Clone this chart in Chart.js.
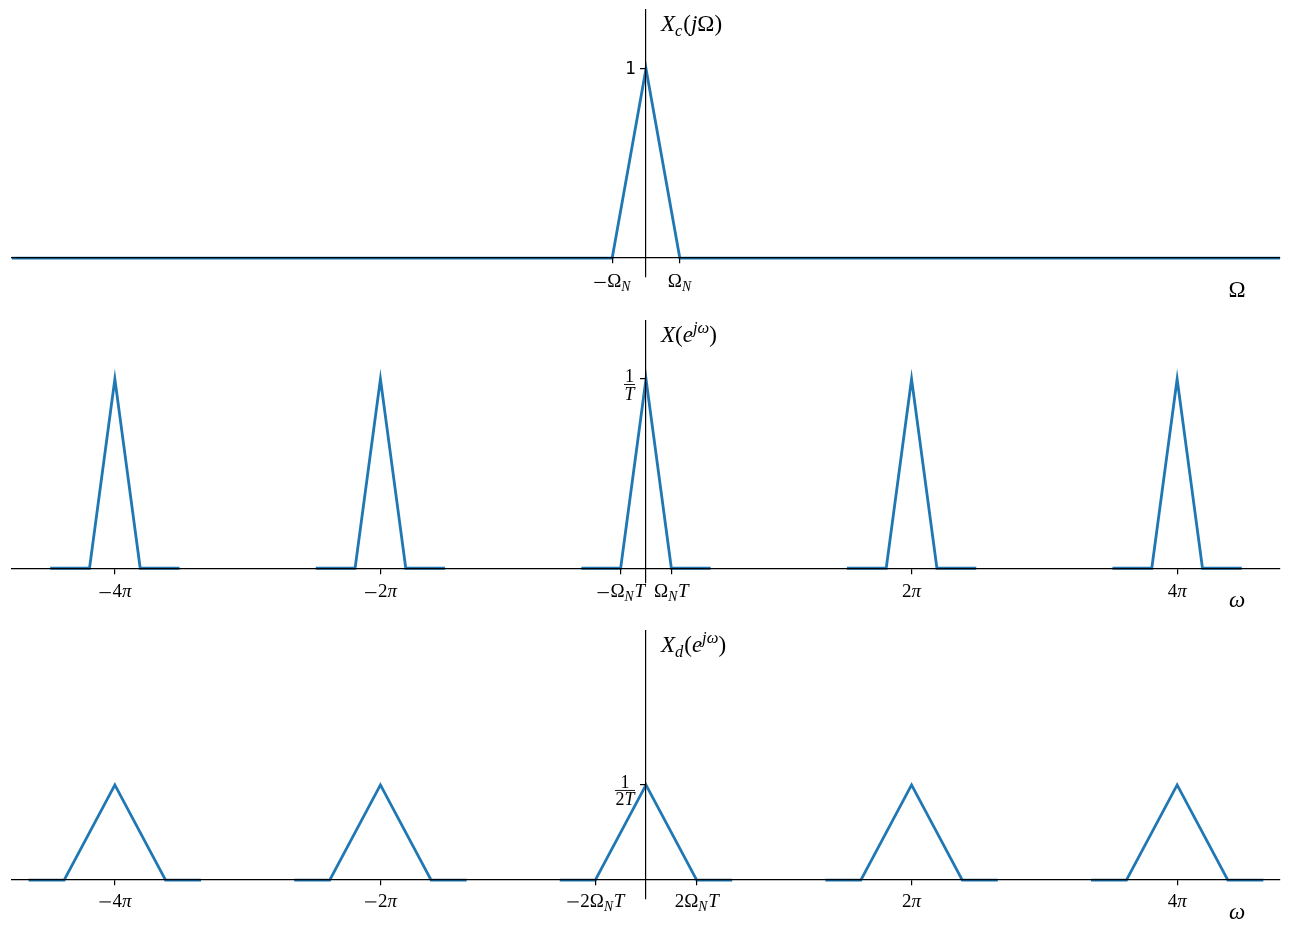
<!DOCTYPE html>
<html>
<head>
<meta charset="utf-8">
<script src="https://cdn.jsdelivr.net/npm/chart.js@4.4.1/dist/chart.umd.min.js"></script>
<style>
  html, body { margin: 0; padding: 0; background: #fff; width: 1291px; height: 935px; overflow: hidden; }
  canvas { position: absolute; left: 0; }
</style>
</head>
<body>
<canvas id="panel1" width="1291" height="310" style="top:0px"></canvas>
<canvas id="panel2" width="1291" height="312" style="top:310px"></canvas>
<canvas id="panel3" width="1291" height="313" style="top:622px"></canvas>
<script>
const PI = Math.PI;

// X_c(jΩ): continuous-time spectrum
const contOmega = [-15, -0.8, 0, 0.8, 15];
const contValue = [0, 0, 1, 0, 0];

// spectra repeat around every multiple of 2π
const replicaCenters = [-4 * PI, -2 * PI, 0, 2 * PI, 4 * PI];

// X(e^{jω}): one period, offsets from its centre
const sampledOffsets = [-1.53, -0.6, 0, 0.6, 1.53];
const sampledValue = [0, 0, 1.333, 0, 0];

// X_d(e^{jω}): one period, offsets from its centre
const decimOffsets = [-2.04, -1.2, 0, 1.2, 2.04];
const decimValue = [0, 0, 0.667, 0, 0];

// ticks
const xTicks1 = [-0.8, 0.8];
const xTickLabels1 = ['−Ω_N', 'Ω_N'];
const yTicks1 = [1];
const yTickLabels1 = ['1'];

const xTicks2 = [-4 * PI, -2 * PI, -0.6, 0.6, 2 * PI, 4 * PI];
const xTickLabels2 = ['−4π', '−2π', '−Ω_NT', 'Ω_NT', '2π', '4π'];
const yTicks2 = [1.333];
const yTickLabels2 = ['1/T'];

const xTicks3 = [-4 * PI, -2 * PI, -1.2, 1.2, 2 * PI, 4 * PI];
const xTickLabels3 = ['−4π', '−2π', '−2Ω_NT', '2Ω_NT', '2π', '4π'];
const yTicks3 = [0.667];
const yTickLabels3 = ['1/2T'];

const BLUE = '#1f77b4';
const SERIF = '"Liberation Serif", "DejaVu Serif", serif';
const TICK_SIZE = 19;
const FRAC_SIZE = 18;
const LABEL_SIZE = 23;

// tiny tex-ish text: _x / _{..} subscript, ^x / ^{..} superscript, letters italic
function texParts(src) {
  const parts = [];
  let i = 0;
  while (i < src.length) {
    const c = src[i];
    if (c === '_' || c === '^') {
      const script = c === '_' ? 'sub' : 'sup';
      i++;
      let body;
      if (src[i] === '{') {
        const j = src.indexOf('}', i);
        body = src.slice(i + 1, j);
        i = j + 1;
      } else {
        body = src[i];
        i++;
      }
      for (const ch of body) parts.push({ t: ch, it: /[A-Za-zα-ω]/.test(ch), script });
    } else {
      parts.push({ t: c, it: /[A-Za-zα-ω]/.test(c), script: null });
      i++;
    }
  }
  return parts;
}

function layoutTex(ctx, src, size) {
  let w = 0;
  const items = texParts(src).map(p => {
    const s = p.script ? size * 0.72 : size;
    const font = (p.it ? 'italic ' : '') + s + 'px ' + SERIF;
    ctx.font = font;
    let adv;
    if (p.t === '−') {
      // computer-modern style wide minus, drawn as a bar
      adv = size * 0.74;
    } else {
      adv = ctx.measureText(p.t).width;
    }
    if (p.script === 'sub') adv += size * 0.04;
    const dy = p.script === 'sub' ? size * 0.22 : p.script === 'sup' ? -size * 0.4 : 0;
    const item = { t: p.t, font, x: w, dy, size: s };
    w += adv;
    return item;
  });
  return { items, w };
}

function drawTex(ctx, src, x, y, size, align) {
  const { items, w } = layoutTex(ctx, src, size);
  const left = align === 'center' ? x - w / 2 : align === 'right' ? x - w : x;
  ctx.textAlign = 'left';
  ctx.textBaseline = 'alphabetic';
  items.forEach(it => {
    if (it.t === '−') {
      ctx.fillRect(left + it.x + it.size * 0.06, y + it.dy - it.size * 0.27, it.size * 0.6, Math.max(1, it.size * 0.055));
      return;
    }
    ctx.font = it.font;
    ctx.fillText(it.t, left + it.x, y + it.dy);
  });
}

function drawFrac(ctx, src, right, yTick, size) {
  const [num, den] = src.split('/');
  const w = Math.max(layoutTex(ctx, num, size).w, layoutTex(ctx, den, size).w) + 1;
  const cx = right - w / 2;
  drawTex(ctx, num, cx, yTick + 3.2, size, 'center');
  ctx.fillRect(cx - w / 2, yTick + 5, w, 0.9);
  drawTex(ctx, den, cx, yTick + 20.5, size, 'center');
}

function labelPlugin(cfg) {
  return {
    id: 'mathLabels',
    afterDraw(chart) {
      const ctx = chart.ctx;
      const xs = chart.scales.x;
      const ys = chart.scales.y;
      const x0 = xs.getPixelForValue(0);
      const y0 = ys.getPixelForValue(0);
      ctx.save();
      ctx.fillStyle = '#000';
      cfg.xTicks.forEach((v, i) => {
        drawTex(ctx, cfg.xTickLabels[i], xs.getPixelForValue(v), y0 + cfg.tickDrop, TICK_SIZE, 'center');
      });
      cfg.yTicks.forEach((v, i) => {
        const lab = cfg.yTickLabels[i];
        const y = ys.getPixelForValue(v);
        if (lab.includes('/')) {
          drawFrac(ctx, lab, x0 - 11, y, FRAC_SIZE);
        } else {
          ctx.font = '17px "DejaVu Sans", sans-serif';
          ctx.textAlign = 'right';
          ctx.textBaseline = 'middle';
          ctx.fillText(lab, x0 - 10, y + 1);
        }
      });
      drawTex(ctx, cfg.yLabel, x0 + 15, chart.chartArea.top + 21, LABEL_SIZE, 'left');
      drawTex(ctx, cfg.xLabel, xs.right - 43, y0 + 38.7, LABEL_SIZE, 'center');
      ctx.restore();
    }
  };
}

function lineDataset(xs, ys) {
  return {
    data: xs.map((x, i) => ({ x, y: ys[i] })),
    borderColor: BLUE,
    borderWidth: 2.8,
    pointRadius: 0,
    tension: 0,
    fill: false
  };
}

function makeChart(id, cfg) {
  const axisStyle = {
    border: { display: true, color: '#000', width: 1.2, z: 1 },
    grid: { display: true, drawOnChartArea: false, drawTicks: true, tickLength: 5, color: '#000', lineWidth: 1.2, z: 1 },
    ticks: { display: false }
  };
  new Chart(document.getElementById(id), {
    type: 'line',
    data: { datasets: cfg.datasets },
    options: {
      responsive: false,
      animation: false,
      devicePixelRatio: 1,
      events: [],
      layout: { padding: cfg.padding },
      plugins: { legend: { display: false }, tooltip: { enabled: false } },
      scales: {
        x: Object.assign({
          type: 'linear', min: -15, max: 15, position: { y: 0 },
          afterBuildTicks: s => { s.ticks = cfg.xTicks.map(v => ({ value: v })); }
        }, axisStyle),
        y: Object.assign({
          type: 'linear', min: cfg.yRange[0], max: cfg.yRange[1], position: { x: 0 },
          afterBuildTicks: s => { s.ticks = cfg.yTicks.map(v => ({ value: v })); }
        }, axisStyle)
      }
    },
    plugins: [labelPlugin(cfg)]
  });
}

makeChart('panel1', {
  datasets: [lineDataset(contOmega, contValue)],
  padding: { left: 12, right: 11, top: 10, bottom: 33 },
  yRange: [-0.1, 1.31],
  xTicks: xTicks1, xTickLabels: xTickLabels1,
  yTicks: yTicks1, yTickLabels: yTickLabels1,
  tickDrop: 29,
  yLabel: 'X_c(jΩ)', xLabel: 'Ω'
});

makeChart('panel2', {
  datasets: replicaCenters.map(c => lineDataset(sampledOffsets.map(o => c + o), sampledValue)),
  padding: { left: 12, right: 11, top: 11, bottom: 39 },
  yRange: [-0.104, 1.742],
  xTicks: xTicks2, xTickLabels: xTickLabels2,
  yTicks: yTicks2, yTickLabels: yTickLabels2,
  tickDrop: 29,
  yLabel: 'X(e^{jω})', xLabel: 'ω'
});

makeChart('panel3', {
  datasets: replicaCenters.map(c => lineDataset(decimOffsets.map(o => c + o), decimValue)),
  padding: { left: 12, right: 11, top: 9, bottom: 36 },
  yRange: [-0.133, 1.747],
  xTicks: xTicks3, xTickLabels: xTickLabels3,
  yTicks: yTicks3, yTickLabels: yTickLabels3,
  tickDrop: 26.5,
  yLabel: 'X_d(e^{jω})', xLabel: 'ω'
});
</script>
</body>
</html>
